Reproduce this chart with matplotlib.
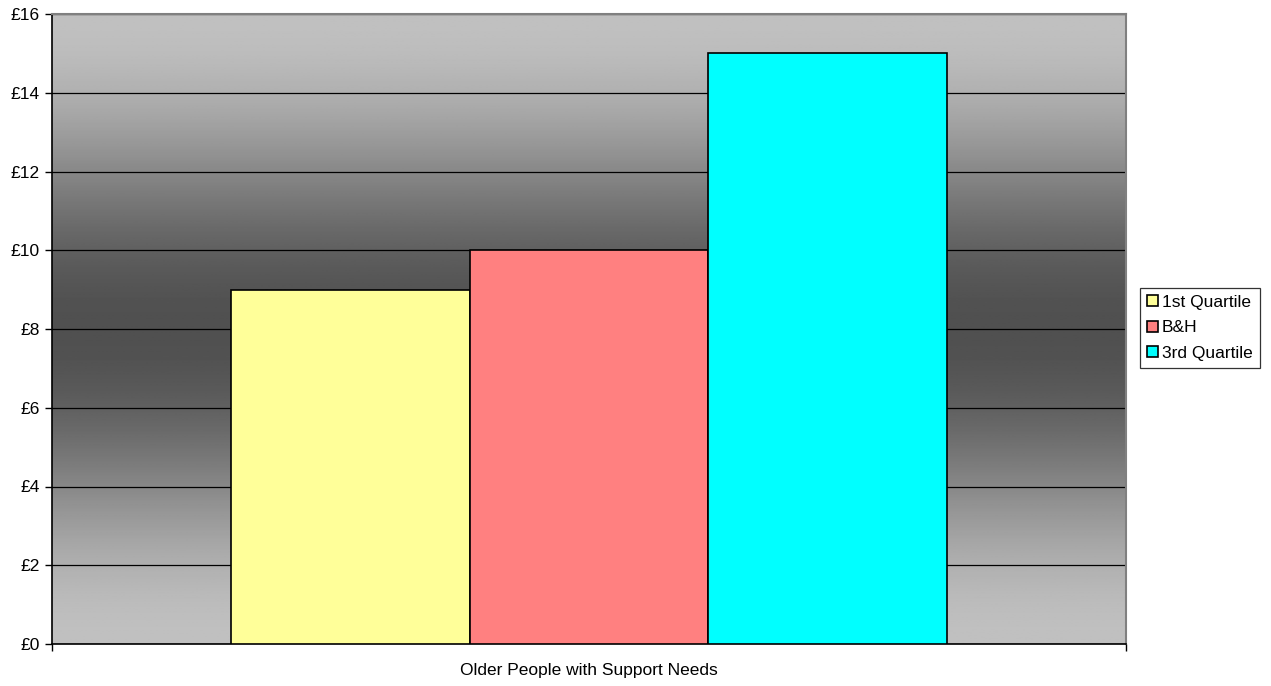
import matplotlib.pyplot as plt
import numpy as np

plt.rcParams['font.family'] = ['Liberation Sans', 'DejaVu Sans']

category = "Older People with Support Needs"
series_names = ["1st Quartile", "B&H", "3rd Quartile"]
series_values = [9, 10, 15]
series_colors = ["#FFFF99", "#FF8080", "#00FFFF"]
y_ticks = [0, 2, 4, 6, 8, 10, 12, 14, 16]
y_tick_labels = [f"£{v}" for v in y_ticks]

FS = 12.5

fig = plt.figure(figsize=(12.71, 6.86), dpi=100)
ax = fig.add_axes([52 / 1271, 42 / 686, 1074 / 1271, 630 / 686])

# grey background, light at top and bottom, dark through the middle
t = np.linspace(0, 1, 400)
d = np.abs(t - 0.5) * 2
shade = 80 + 112 * (1 - np.cos(np.pi * d)) / 2
shade = np.clip(shade, 0, 192) / 255
grad = np.repeat(shade[:, None], 2, axis=1)
ax.imshow(grad, cmap="gray", vmin=0, vmax=1, aspect="auto",
          extent=[-0.5, 0.5, 0, 16], origin="lower", zorder=0)

bar_w = 0.2222
offsets = (np.arange(len(series_values)) - 1) * bar_w
for name, val, col, off in zip(series_names, series_values, series_colors, offsets):
    ax.bar(off, val, width=bar_w, color=col, edgecolor="black", linewidth=1.2,
           label=name, zorder=3)

ax.set_xlim(-0.5, 0.5)
ax.set_ylim(0, 16)
ax.set_yticks(y_ticks)
ax.set_yticklabels(y_tick_labels, fontsize=FS)
ax.yaxis.grid(True, color="black", linewidth=0.9, zorder=1)
ax.set_axisbelow(True)

ax.set_xticks([-0.5, 0.5])
ax.set_xticklabels(["", ""])
ax.tick_params(axis="x", length=5, color="black", width=1)
ax.tick_params(axis="y", length=5, color="black", width=1, pad=4)
ax.text(0, -0.03, category, transform=ax.get_xaxis_transform(),
        ha="center", va="top", fontsize=FS)

for side in ["top", "right"]:
    ax.spines[side].set_color("#808080")
    ax.spines[side].set_linewidth(1.5)
for side in ["left", "bottom"]:
    ax.spines[side].set_color("black")
    ax.spines[side].set_linewidth(1.2)

leg = fig.legend(loc="center right", bbox_to_anchor=(0.991, 0.522),
                 fontsize=FS, frameon=True, fancybox=False, edgecolor="black",
                 handlelength=0.6, handleheight=0.6, handletextpad=0.25,
                 labelspacing=0.6, borderpad=0.4, borderaxespad=0)
leg.get_frame().set_linewidth(0.9)

fig.savefig("out.png", dpi=100)
